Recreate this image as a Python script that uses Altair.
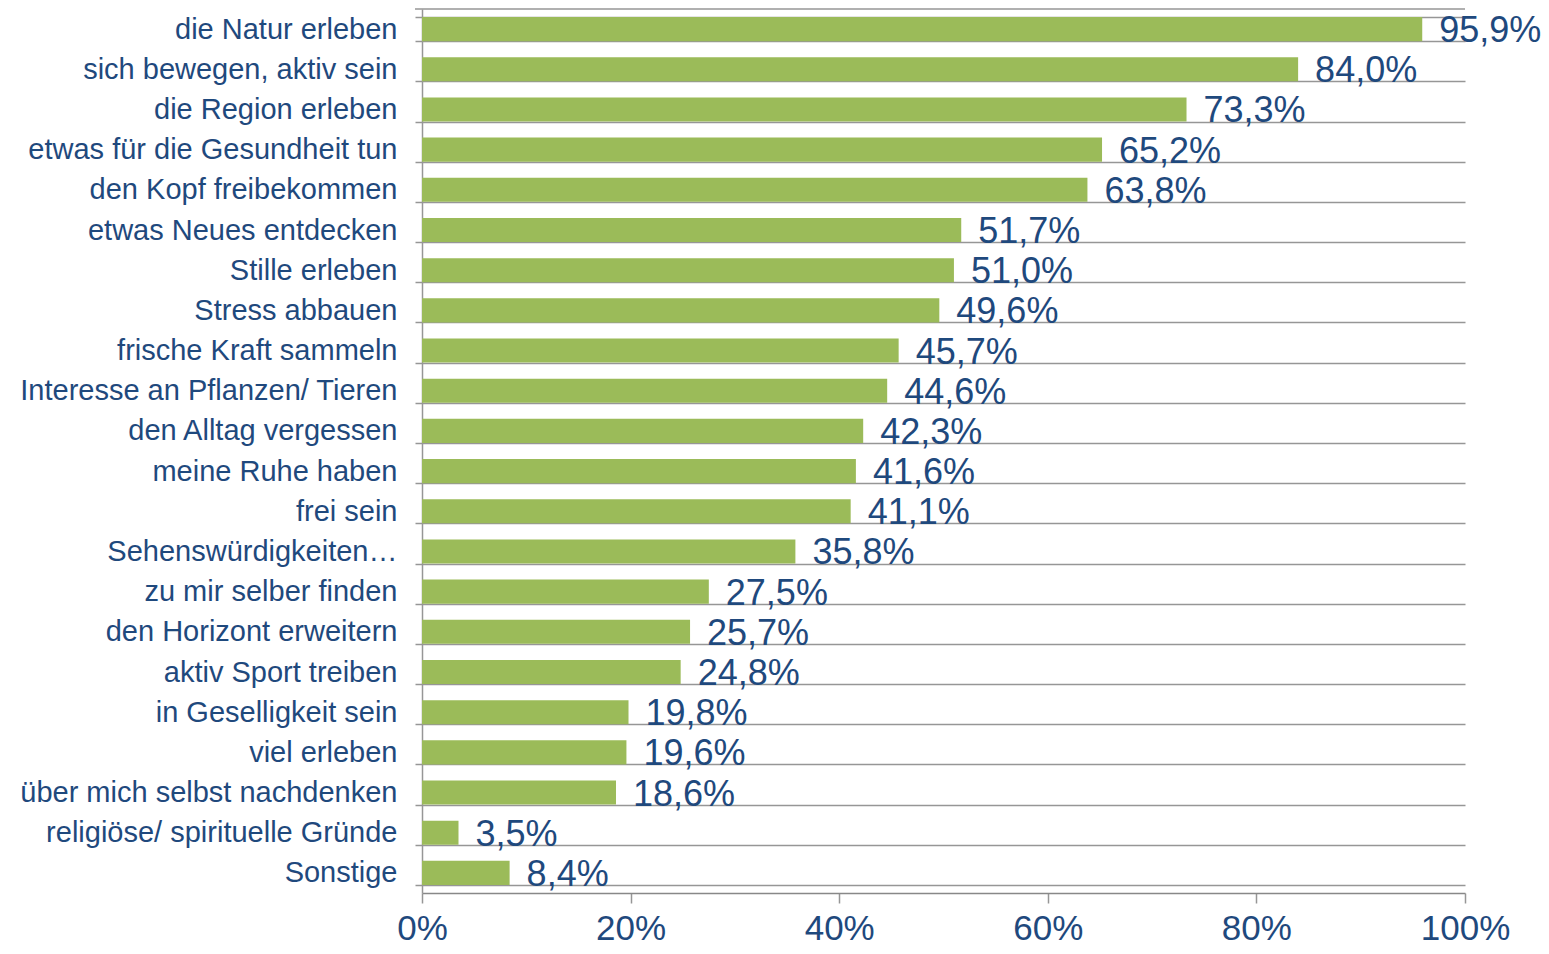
import altair as alt
import pandas as pd

categories = [
    "die Natur erleben",
    "sich bewegen, aktiv sein",
    "die Region erleben",
    "etwas für die Gesundheit tun",
    "den Kopf freibekommen",
    "etwas Neues entdecken",
    "Stille erleben",
    "Stress abbauen",
    "frische Kraft sammeln",
    "Interesse an Pflanzen/ Tieren",
    "den Alltag vergessen",
    "meine Ruhe haben",
    "frei sein",
    "Sehenswürdigkeiten…",
    "zu mir selber finden",
    "den Horizont erweitern",
    "aktiv Sport treiben",
    "in Geselligkeit sein",
    "viel erleben",
    "über mich selbst nachdenken",
    "religiöse/ spirituelle Gründe",
    "Sonstige",
]
values = [95.9, 84.0, 73.3, 65.2, 63.8, 51.7, 51.0, 49.6, 45.7, 44.6, 42.3,
          41.6, 41.1, 35.8, 27.5, 25.7, 24.8, 19.8, 19.6, 18.6, 3.5, 8.4]
x_ticks = [0, 0.2, 0.4, 0.6, 0.8, 1.0]

df = pd.DataFrame({"cat": categories, "val": [v / 100 for v in values]})
df["label"] = [f"{v:.1f}".replace(".", ",") + "%" for v in values]

FONT = "Liberation Sans"
BLUE = "#1f497d"
GRAY = "#969696"

y_enc = alt.Y(
    "cat:N",
    sort=categories,
    title=None,
    scale=alt.Scale(paddingInner=0.4, paddingOuter=0.2),
    axis=alt.Axis(
        labelFont=FONT, labelFontSize=29, labelColor=BLUE,
        labelPadding=18, labelLimit=600,
        tickSize=7, tickColor=GRAY, tickWidth=1.5, tickBand="extent",
        grid=True, gridColor=GRAY, gridWidth=1.5,
        domainColor=GRAY, domainWidth=1.5,
    ),
)
x_enc = alt.X(
    "val:Q",
    title=None,
    scale=alt.Scale(domain=[0, 1], nice=False),
    axis=alt.Axis(
        values=x_ticks, format=".0%", labelFlush=False,
        labelFont=FONT, labelFontSize=35, labelColor=BLUE, labelPadding=8,
        tickSize=10, tickColor=GRAY, tickWidth=1.5,
        grid=False, domainColor="#888888", domainWidth=1.5,
    ),
)

bars = alt.Chart(df).mark_bar(color="#9bbb59").encode(y=y_enc, x=x_enc)
texts = alt.Chart(df).mark_text(
    align="left", baseline="middle", dx=17, dy=2, font=FONT, fontSize=36, color=BLUE
).encode(y=y_enc, x=x_enc, text="label:N")

# top border gridline (with its small left tick), as in the reference
top_line = alt.Chart(df.head(1)).mark_rule(color=GRAY, strokeWidth=1.5).encode(
    y=alt.value(0), x=alt.value(-7), x2=alt.value(1043)
)

chart = (bars + texts + top_line).properties(
    width=1043, height=884,
    background="white",
    autosize=alt.AutoSizeParams(type="none"),
    padding={"left": 414, "top": 1, "right": 76, "bottom": 52},
).configure_view(stroke="transparent", strokeWidth=0)

chart.save("out.html", embed_options={"renderer": "svg", "actions": False})
